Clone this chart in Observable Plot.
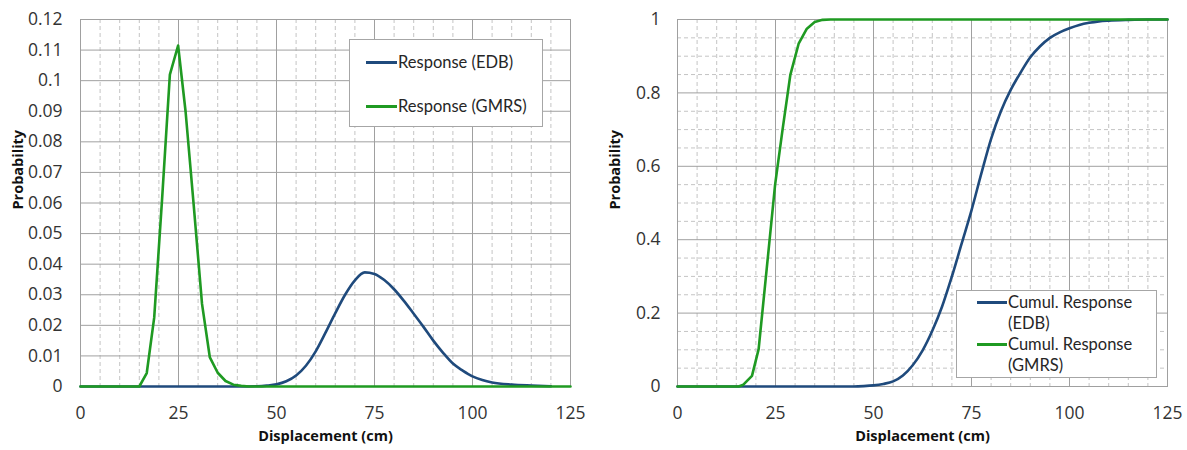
<!DOCTYPE html>
<html><head><meta charset="utf-8">
<script src="https://cdn.jsdelivr.net/npm/d3@7"></script>
<script src="https://cdn.jsdelivr.net/npm/@observablehq/plot@0.6"></script>
<style>
body{margin:0;background:#fff;font-family:Lato,"Open Sans",sans-serif;}
#wrap{position:relative;width:1187px;height:450px;overflow:hidden;}
.panel{position:absolute;top:0;}
.legend{position:absolute;background:#fff;border:1px solid #a6a6a6;box-sizing:border-box;font-size:16.5px;color:#262626;}
.sw{position:absolute;height:3px;}
.lt{position:absolute;white-space:nowrap;line-height:21px;}
</style></head><body><div id="wrap"></div>
<script>
// ---------- data ----------
const xTicks = [0, 25, 50, 75, 100, 125];
const xMajorGrid = [25, 50, 75, 100];
const xMinorGrid = [5,10,15,20,30,35,40,45,55,60,65,70,80,85,90,95,105,110,115,120];
const pdfYTicks = [0,0.01,0.02,0.03,0.04,0.05,0.06,0.07,0.08,0.09,0.1,0.11,0.12];
const cdfYTicks = [0,0.2,0.4,0.6,0.8,1];
const cdfYMinor = [0.05,0.1,0.15,0.25,0.3,0.35,0.45,0.5,0.55,0.65,0.7,0.75,0.85,0.9,0.95];

const gmrsPdfX = [0, 15, 16.9, 18.8, 20.8, 22.8, 24.9, 26.8, 28.9, 31.0, 33.0, 35.0, 37.0, 39.0, 41.0, 43.0, 125];
const gmrsPdfY = [0, 0, 0.0044, 0.0225, 0.061, 0.102, 0.1115, 0.090, 0.059, 0.027, 0.0095, 0.0045, 0.0018, 0.0006, 0.0002, 0, 0];

const edbPdfX = [0, 40, 45, 47.5, 50, 52.5, 55, 57.5, 60, 62.5, 65, 67.5, 70, 72.5, 75, 77.5, 80, 82.5, 85, 87.5, 90, 92.5, 95, 97.5, 100, 102.5, 105, 110, 115, 120];
const edbPdfY = [0, 0, 0.0001, 0.0003, 0.0007, 0.0017, 0.0036, 0.0068, 0.0115, 0.0176, 0.0240, 0.0300, 0.0347, 0.0373, 0.0368, 0.0348, 0.0318, 0.0280, 0.0238, 0.0195, 0.0150, 0.0110, 0.0075, 0.0052, 0.0033, 0.0021, 0.0013, 0.0006, 0.0003, 0.0001];

const gmrsCdfX = [0, 15.6, 16.8, 19.0, 20.7, 22.8, 24.9, 26.8, 28.8, 30.9, 33.0, 35.0, 37.0, 39.0, 125];
const gmrsCdfY = [0, 0, 0.005, 0.029, 0.102, 0.325, 0.55, 0.70, 0.85, 0.934, 0.975, 0.993, 0.999, 1, 1];

const edbCdfX = [0, 45, 47.5, 50, 52.5, 55, 57.5, 60, 62.5, 65, 67.5, 70, 72.5, 75, 77.5, 80, 82.5, 85, 87.5, 90, 92.5, 95, 97.5, 100, 102.5, 105, 107.5, 110, 115, 120, 125];
const edbCdfY = [0, 0, 0.001, 0.003, 0.007, 0.014, 0.030, 0.058, 0.098, 0.152, 0.218, 0.30, 0.39, 0.48, 0.58, 0.675, 0.75, 0.808, 0.855, 0.897, 0.927, 0.95, 0.965, 0.976, 0.985, 0.991, 0.995, 0.997, 0.999, 1, 1];

const seriesNames = ["Response (EDB)", "Response (GMRS)"];
const cdfNames = ["Cumul. Response (EDB)", "Cumul. Response (GMRS)"];
const colors = ["#1f4a7c", "#1f9a22"];
const yTitle = "Probability";
const xTitle = "Displacement (cm)";

// ---------- helpers ----------
const toRows = (xs, ys) => xs.map((x, i) => ({x, y: ys[i]}));
const FONT = '"Open Sans", Lato, sans-serif';
const MAJOR = "#a0a0a0", MINOR = "#c4c4c4";
const TICKFS = 17.5;
const fmt = d => String(+d.toFixed(2));

function common(yGrid, yMinor, yTicks, yPad) {
  const marks = [];
  marks.push(Plot.gridX(xMinorGrid, {stroke: MINOR, strokeOpacity: 1, strokeDasharray: "4,3"}));
  if (yMinor) marks.push(Plot.gridY(yMinor, {stroke: MINOR, strokeOpacity: 1, strokeDasharray: "4,3"}));
  marks.push(Plot.gridX(xMajorGrid, {stroke: MAJOR, strokeOpacity: 1}));
  marks.push(Plot.gridY(yGrid, {stroke: MAJOR, strokeOpacity: 1}));
  marks.push(Plot.frame({stroke: MAJOR}));
  // tick labels
  marks.push(Plot.text(xTicks, {x: d => d, frameAnchor: "bottom", lineAnchor: "top", dy: 20, text: d => String(d), fontSize: TICKFS, fill: "#333"}));
  marks.push(Plot.text(yTicks, {y: d => d, frameAnchor: "left", textAnchor: "end", dx: -yPad, text: fmt, fontSize: TICKFS, fill: "#333"}));
  marks.push(Plot.text([yTitle], {frameAnchor: "left", rotate: -90, dx: -62, dy: 6.5, fontWeight: "bold", fontSize: 14.5, fill: "#111"}));
  marks.push(Plot.text([xTitle], {frameAnchor: "bottom", dy: 54, fontWeight: "bold", fontSize: 14.5, fill: "#111"}));
  return marks;
}

const left = Plot.plot({
  width: 595, height: 450, marginLeft: 80, marginRight: 25, marginTop: 19, marginBottom: 64,
  x: {domain: [0, 125], axis: null}, y: {domain: [0, 0.12], axis: null},
  style: {fontFamily: FONT, fontSize: "16px", background: "transparent", overflow: "visible"},
  marks: [
    ...common(pdfYTicks, null, pdfYTicks, 18),
    Plot.line(toRows(edbPdfX, edbPdfY), {x: "x", y: "y", stroke: colors[0], strokeWidth: 2.6, curve: "monotone-x"}),
    Plot.line(toRows(gmrsPdfX, gmrsPdfY), {x: "x", y: "y", stroke: colors[1], strokeWidth: 2.6})
  ]
});

const right = Plot.plot({
  width: 590, height: 450, marginLeft: 80, marginRight: 20, marginTop: 19, marginBottom: 64,
  x: {domain: [0, 125], axis: null}, y: {domain: [0, 1], axis: null},
  style: {fontFamily: FONT, fontSize: "16px", background: "transparent", overflow: "visible"},
  marks: [
    ...common(cdfYTicks, cdfYMinor, cdfYTicks, 17),
    Plot.line(toRows(edbCdfX, edbCdfY), {x: "x", y: "y", stroke: colors[0], strokeWidth: 2.6, curve: "monotone-x"}),
    Plot.line(toRows(gmrsCdfX, gmrsCdfY), {x: "x", y: "y", stroke: colors[1], strokeWidth: 2.6})
  ]
});

const wrap = document.getElementById("wrap");
left.classList.add("panel"); left.style.left = "0px";
right.classList.add("panel"); right.style.left = "597px";
wrap.appendChild(left); wrap.appendChild(right);

// ---------- legends ----------
function legend(x, y, w, h, items) {
  const box = document.createElement("div");
  box.className = "legend";
  Object.assign(box.style, {left: x + "px", top: y + "px", width: w + "px", height: h + "px"});
  for (const it of items) {
    const sw = document.createElement("div");
    sw.className = "sw";
    Object.assign(sw.style, {left: it.lx + "px", width: it.lw + "px", top: (it.ly - 1.5) + "px", background: it.color});
    box.appendChild(sw);
    const t = document.createElement("div");
    t.className = "lt";
    Object.assign(t.style, {left: (it.lx + it.lw + 1) + "px", top: (it.ly - 10.5) + "px"});
    t.innerHTML = it.lines.join("<br>");
    box.appendChild(t);
  }
  wrap.appendChild(box);
}
legend(349, 39, 194, 88, [
  {lx: 16, lw: 31, ly: 22, color: colors[0], lines: [seriesNames[0]]},
  {lx: 16, lw: 31, ly: 66, color: colors[1], lines: [seriesNames[1]]}
]);
legend(956, 290, 201, 88, [
  {lx: 20, lw: 30, ly: 11, color: colors[0], lines: ["Cumul. Response", "(EDB)"]},
  {lx: 20, lw: 30, ly: 53, color: colors[1], lines: ["Cumul. Response", "(GMRS)"]}
]);
</script></body></html>
